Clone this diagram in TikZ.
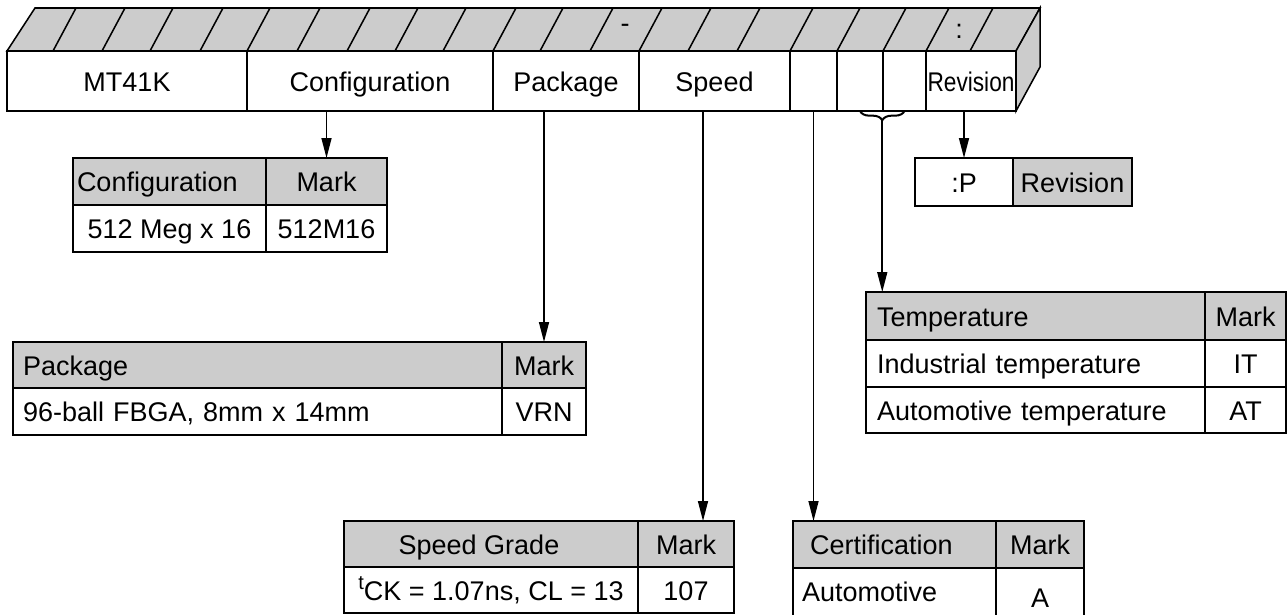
\documentclass[tikz,border=0pt]{standalone}
\usepackage{fontspec}
\setmainfont{Liberation Sans}
\usetikzlibrary{arrows.meta,decorations.pathreplacing,calc}
\definecolor{hdr}{RGB}{204,204,204}
\newcommand\mkcell[7]{%
  \pgfmathsetlengthmacro\cellW{(#4-#2)*0.75pt}%
  \pgfmathsetlengthmacro\cellH{(#5-#3)*0.75pt}%
  \node[cellbase,minimum width=\cellW,minimum height=\cellH,#6] (#1) at ({(#2+#4)/2},{(#3+#5)/2}) {#7};}
\newcommand\mkcellL[8]{%
  \pgfmathsetlengthmacro\cellW{(#4-#2)*0.75pt}%
  \pgfmathsetlengthmacro\cellH{(#5-#3)*0.75pt}%
  \pgfmathsetlengthmacro\cellT{(#4-#2-2*#6)*0.75pt}%
  \node[cellbase,minimum width=\cellW,minimum height=\cellH,text width=\cellT,align=left,#7] (#1) at ({(#2+#4)/2},{(#3+#5)/2}) {#8};}
\tikzset{
  cellbase/.style={draw,line width=1.15pt,inner sep=0pt,outer sep=0pt,
    font=\fontsize{20.25}{24}\selectfont,text height=15.5pt,text depth=0pt,anchor=center},
  arr/.style={line width=1.15pt,-{Triangle[length=15pt,width=7.5pt]}},
  bartext/.style={font=\fontsize{20.25}{24}\selectfont,inner sep=0pt}
}
\begin{document}
\begin{tikzpicture}[x=0.75pt,y=-0.75pt]
\fill[white] (0,0) rectangle (1287,614);
\useasboundingbox (0,0) rectangle (1287,614);
% top face and right face of the bar
\draw[line width=1.15pt,fill=hdr] (7,51) -- (35,8) -- (1040,8) -- (1016,51) -- cycle;
\draw[line width=1.15pt,fill=hdr] (1016,51) -- (1040,8) -- (1040,67) -- (1016,111) -- cycle;
\foreach \xb in {53,102,150,200,247,297,347,395,443,493,540,590,639,688,737,790,837,883,926,970}
  \draw[line width=1.15pt] (\xb,51) -- ++(23,-43);
\node[bartext] (hy) at (625,28) {-};
\node[bartext] (colon) at (959,31) {:};
% front cells
\mkcell{mt}{7}{51}{247}{111}{fill=white}{MT41K}
\mkcell{cfg}{247}{51}{493}{111}{fill=white}{Configuration}
\mkcell{pkg}{493}{51}{639}{111}{fill=white}{Package}
\mkcell{spd}{639}{51}{790}{111}{fill=white}{Speed}
\mkcell{b1}{790}{51}{837}{111}{fill=white}{}
\mkcell{b2}{837}{51}{883}{111}{fill=white}{}
\mkcell{b3}{883}{51}{926}{111}{fill=white}{}
\mkcell{rev}{926}{51}{1016}{111}{fill=white}{\scalebox{0.84}[1]{Revision}}
% configuration table
\mkcellL{cH}{73}{158}{266}{205}{4}{fill=hdr}{Configuration}
\mkcell{cMH}{266}{158}{387}{205}{fill=hdr}{Mark}
\mkcell{cR}{73}{205}{266}{252}{fill=white}{512 Meg x 16}
\mkcell{cMR}{266}{205}{387}{252}{fill=white}{512M16}
% package table
\mkcellL{pH}{13}{342}{502}{388}{10}{fill=hdr}{Package}
\mkcell{pMH}{502}{342}{586}{388}{fill=hdr}{Mark}
\mkcellL{pR}{13}{388}{502}{435}{10}{fill=white}{96-ball FBGA, 8mm x 14mm}
\mkcell{pMR}{502}{388}{586}{435}{fill=white}{VRN}
% speed table
\mkcell{sH}{344}{521}{638}{567}{fill=hdr}{Speed Grade\hspace*{18pt}}
\mkcell{sMH}{638}{521}{734}{567}{fill=hdr}{Mark}
\mkcell{sR}{344}{567}{638}{613}{fill=white}{\raisebox{8.5pt}{\fontsize{15}{15}\selectfont t}CK = 1.07ns, CL = 13}
\mkcell{sMR}{638}{567}{734}{613}{fill=white}{107}
% certification table
\mkcellL{ceH}{793}{521}{996}{568}{17}{fill=hdr}{Certification}
\mkcell{ceMH}{996}{521}{1084}{568}{fill=hdr}{Mark}
\mkcellL{ceR}{793}{568}{996}{626}{9}{fill=white,text depth=9pt}{Automotive}
\mkcell{ceMR}{996}{568}{1084}{626}{fill=white}{A}
% temperature table
\mkcellL{tH}{866}{292}{1205}{340}{11}{fill=hdr}{Temperature}
\mkcell{tMH}{1205}{292}{1286}{340}{fill=hdr}{Mark}
\mkcellL{tR1}{866}{340}{1205}{387}{11}{fill=white}{Industrial temperature}
\mkcell{tM1}{1205}{340}{1286}{387}{fill=white}{IT}
\mkcellL{tR2}{866}{387}{1205}{433}{11}{fill=white}{Automotive temperature}
\mkcell{tM2}{1205}{387}{1286}{433}{fill=white}{AT}
% revision box
\mkcell{pV}{915}{158}{1013}{206}{fill=white}{:P}
\mkcell{pRev}{1013}{158}{1132}{206}{fill=hdr}{Revision}
% connectors
\draw[arr] (cMH.north |- cfg.south) -- (cMH.north);
\draw[arr] (pMH.north |- pkg.south) -- (pMH.north);
\coordinate (sTip) at ([xshift=12.75pt]sMH.north);
\draw[arr] (sTip |- spd.south) -- (sTip);
\draw[arr] (b1.south) -- (b1.south |- ceH.north);
\draw[arr] (pV.north |- rev.south) -- (pV.north);
\draw[line width=1.5pt,decorate,decoration={brace,mirror,amplitude=7pt}] (b2.south) -- (b3.south);
\coordinate (bt) at ($(b2.south)!0.5!(b3.south)+(0,9.3)$);
\draw[arr] (bt) -- (bt |- tH.north);
\end{tikzpicture}
\end{document}
